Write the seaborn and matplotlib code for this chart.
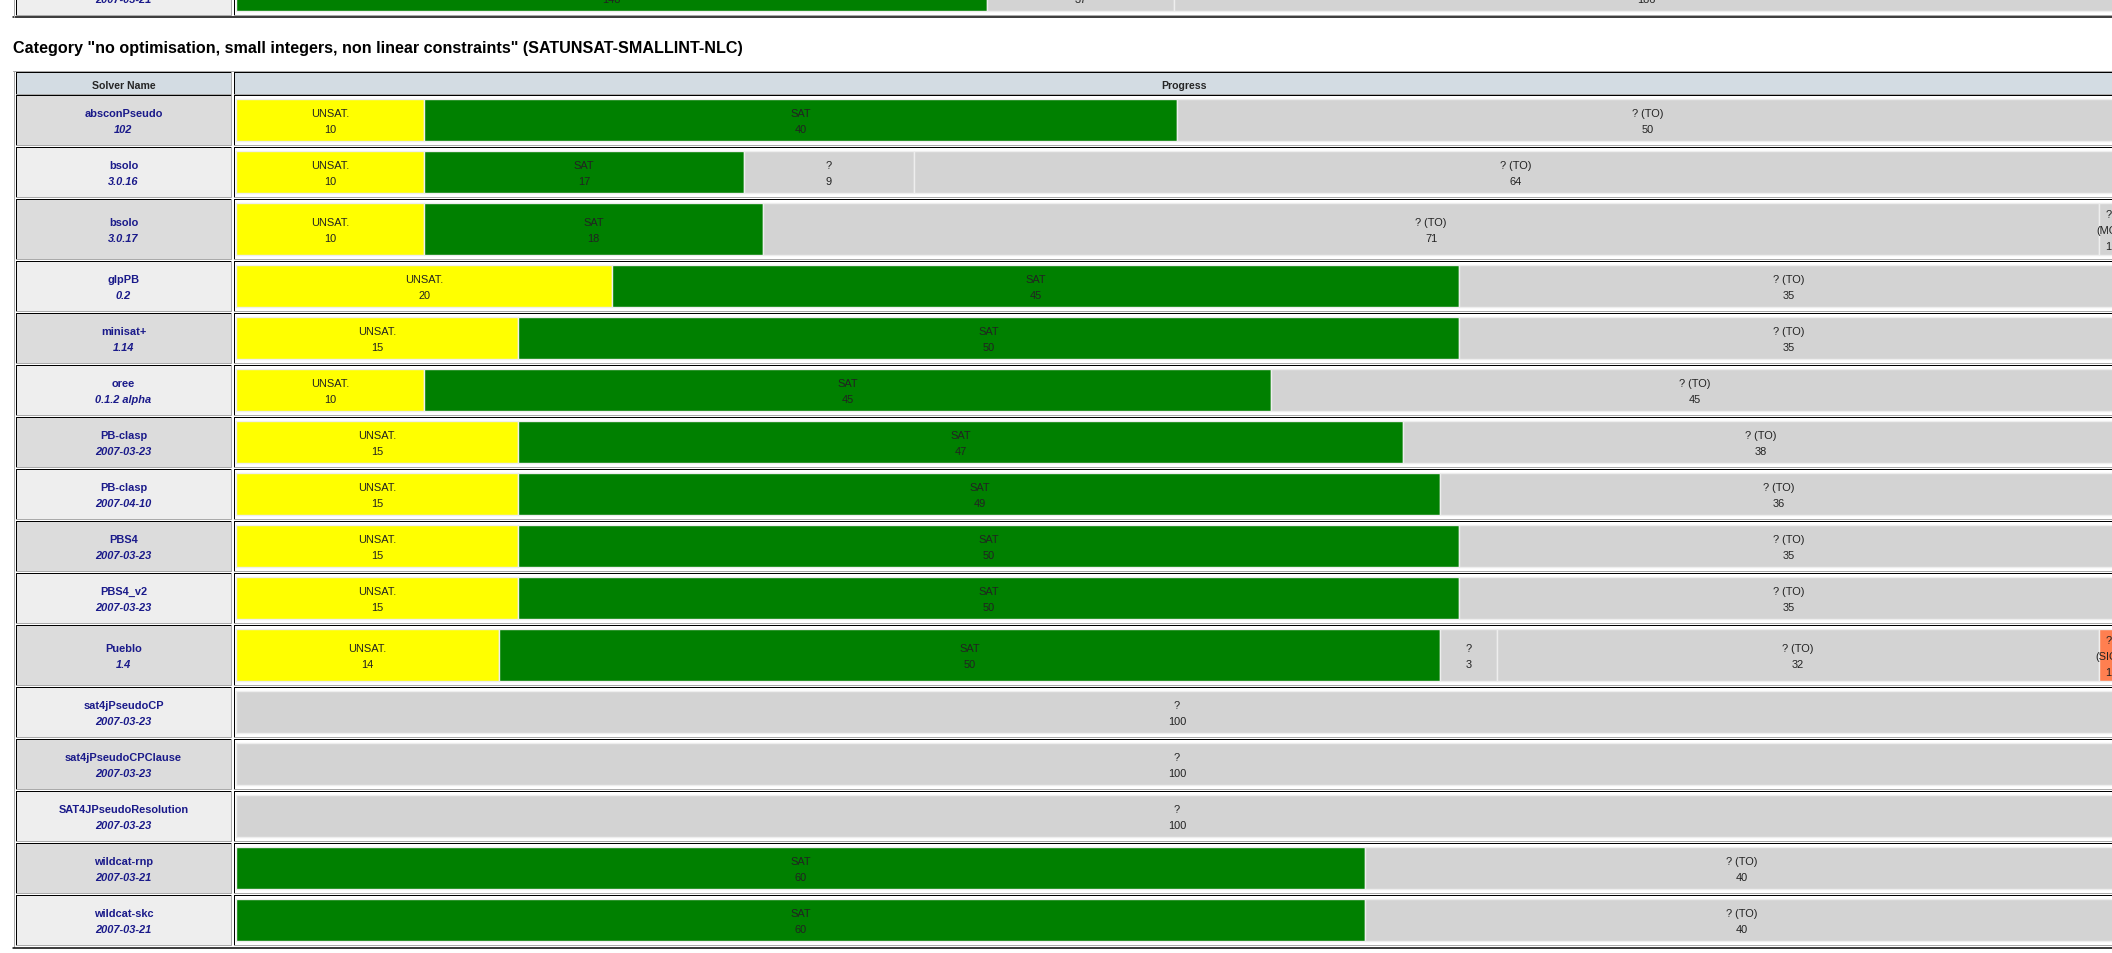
import numpy as np
import pandas as pd
import seaborn as sns
import matplotlib.pyplot as plt
from matplotlib.patches import Rectangle

# ---- data -------------------------------------------------------------
title = 'Category "no optimisation, small integers, non linear constraints" (SATUNSAT-SMALLINT-NLC)'

solvers = ['absconPseudo', 'bsolo', 'bsolo', 'glpPB', 'minisat+', 'oree',
           'PB-clasp', 'PB-clasp', 'PBS4', 'PBS4_v2', 'Pueblo',
           'sat4jPseudoCP', 'sat4jPseudoCPClause', 'SAT4JPseudoResolution',
           'wildcat-rnp', 'wildcat-skc']
versions = ['102', '3.0.16', '3.0.17', '0.2', '1.14', '0.1.2 alpha',
            '2007-03-23', '2007-04-10', '2007-03-23', '2007-03-23', '1.4',
            '2007-03-23', '2007-03-23', '2007-03-23', '2007-03-21', '2007-03-21']

unsat   = [10, 10, 10, 20, 15, 10, 15, 15, 15, 15, 14, 0, 0, 0, 0, 0]
sat     = [40, 17, 18, 45, 50, 45, 47, 49, 50, 50, 50, 0, 0, 0, 60, 60]
unknown = [0, 9, 0, 0, 0, 0, 0, 0, 0, 0, 3, 100, 100, 100, 0, 0]
timeout = [50, 64, 71, 35, 35, 45, 38, 36, 35, 35, 32, 0, 0, 0, 40, 40]
memout  = [0, 0, 1, 0, 0, 0, 0, 0, 0, 0, 0, 0, 0, 0, 0, 0]
signal  = [0, 0, 0, 0, 0, 0, 0, 0, 0, 0, 1, 0, 0, 0, 0, 0]

status_labels = ['UNSAT.', 'SAT', '?', '? (TO)', '? (MO)', '? (SIG)']

# last row of the previous category, cut off by the top edge
prev_version = '2007-03-21'
prev_values = [148, 37, 186]

# ---- style ------------------------------------------------------------
sns.set_theme(style='white')
plt.rcParams['font.family'] = ['Liberation Sans', 'DejaVu Sans']

status_colors = ['#ffff00', '#008000', '#d3d3d3', '#d3d3d3', '#d3d3d3', '#ff7f50']
name_color = '#1a1a8a'
text_color = '#222222'
small = 7.9

W, H = 2112, 954
fig = plt.figure(figsize=(W / 100, H / 100), dpi=100)

# pixel canvas for the html table frame
bg = fig.add_axes([0, 0, 1, 1])
bg.set_xlim(0, W)
bg.set_ylim(H, 0)
bg.axis('off')

px = 1 / 100 * 72  # one pixel in points


def cell(x0, y0, x1, y1, fc):
    bg.add_patch(Rectangle((x0, y0), x1 - x0, y1 - y0, facecolor=fc, edgecolor='none'))
    bg.plot([x0, x1], [y0, y0], color='black', lw=px)
    bg.plot([x0, x0], [y0, y1], color='black', lw=px)
    bg.plot([x0, x1], [y1, y1], color='#aaaaaa', lw=px)
    bg.plot([x1, x1], [y0, y1], color='#aaaaaa', lw=px)


def lines(axis, x, yc, parts, **kw):
    # html-like stacked lines, 16 px apart, baseline 4 px below the line middle
    n = len(parts)
    for k, s in enumerate(parts):
        axis.text(x, yc + 4 + 16 * (k - (n - 1) / 2), s, ha='center', va='baseline', **kw)


name_x0, name_x1 = 16, 231
prog_x0, prog_x1 = 233.5, 2135
name_cx = (name_x0 + name_x1) / 2

# previous table remnant
cell(name_x0, -34.5, name_x1, 15.5, '#eeeeee')
cell(prog_x0, -34.5, prog_x1, 15.5, 'white')
bg.text(name_cx, 3, prev_version, ha='center', va='baseline', fontsize=small,
        fontweight='bold', fontstyle='italic', color=name_color)
bg.plot([13, W], [18, 18], color='black', lw=1.5 * px)
bg.plot([14, 14], [0, 18], color='#aaaaaa', lw=px)

# title
bg.text(13, 52.7, title, ha='left', va='baseline', fontsize=11.6, fontweight='bold', color='black')

# main table frame
bg.plot([13, W], [72, 72], color='#aaaaaa', lw=px)
bg.plot([14, 14], [72, 948], color='#aaaaaa', lw=px)
bg.plot([13, W], [948.5, 948.5], color='black', lw=1.5 * px)

cell(name_x0, 73, name_x1, 95, '#d3dce3')
cell(prog_x0, 73, prog_x1, 95, '#d3dce3')
bg.text(name_cx, 89.3, 'Solver Name', ha='center', va='baseline', fontsize=7.6, fontweight='bold')
bg.text((prog_x0 + prog_x1) / 2, 89.3, 'Progress', ha='center', va='baseline', fontsize=7.6,
        fontweight='bold')

# row layout: rows holding a wrapped 3-line label are taller
counts = np.array([unsat, sat, unknown, timeout, memout, signal]).T
row_h = [60 if (m or s) else 50 for m, s in zip(memout, signal)]
tops = np.concatenate([[96], 96 + np.cumsum(np.array(row_h) + 2)[:-1]])
centers = tops + np.array(row_h) / 2

for i, (name, ver) in enumerate(zip(solvers, versions)):
    y0, y1 = tops[i], tops[i] + row_h[i]
    cell(name_x0, y0, name_x1, y1, '#dcdcdc' if i % 2 == 0 else '#eeeeee')
    cell(prog_x0, y0, prog_x1, y1, 'white')
    bg.text(name_cx, centers[i] + 4 - 8, name, ha='center', va='baseline', fontsize=small,
            fontweight='bold', color=name_color)
    bg.text(name_cx, centers[i] + 4 + 8, ver, ha='center', va='baseline', fontsize=small,
            fontweight='bold', fontstyle='italic', color=name_color)

# ---- stacked progress bars ---------------------------------------------
unit = 18.82  # pixels per percent
left_px = 234
ax = fig.add_axes([left_px / W, 0, 1 - left_px / W, 1])
ax.set_xlim(-(236 - left_px) / unit, (W - 236) / unit)
ax.set_ylim(H, 0)
ax.patch.set_alpha(0)
ax.axis('off')

df = pd.DataFrame(counts, columns=status_labels)
df['center'] = centers
df['bar_h'] = np.array(row_h) - 8
lefts = df[status_labels].cumsum(axis=1) - df[status_labels]

for k, lab in enumerate(status_labels):
    m = df[lab] > 0
    ax.barh(df.loc[m, 'center'], df.loc[m, lab], left=lefts.loc[m, lab], height=df.loc[m, 'bar_h'],
            color=status_colors[k], edgecolor='#eeeeee', linewidth=1.0)
    for yc, v, l in zip(df.loc[m, 'center'], df.loc[m, lab], lefts.loc[m, lab]):
        parts = lab.split(' ') if v <= 2 else [lab]
        lines(ax, l + v / 2, yc, parts + [str(v)], fontsize=small, color=text_color)

# remnant row of the previous category (scaled to full bar width)
prev_pct = np.array(prev_values) / sum(prev_values) * 100
prev_left = np.cumsum(prev_pct) - prev_pct
prev_colors = ['#008000', '#d3d3d3', '#d3d3d3']
ax.barh([-9] * 3, prev_pct, left=prev_left, height=42, color=prev_colors,
        edgecolor='#eeeeee', linewidth=1.0)
for l, p, v in zip(prev_left, prev_pct, prev_values):
    ax.text(l + p / 2, 3, str(v), ha='center', va='baseline', fontsize=small, color=text_color)

fig.savefig('out.png', dpi=100)
